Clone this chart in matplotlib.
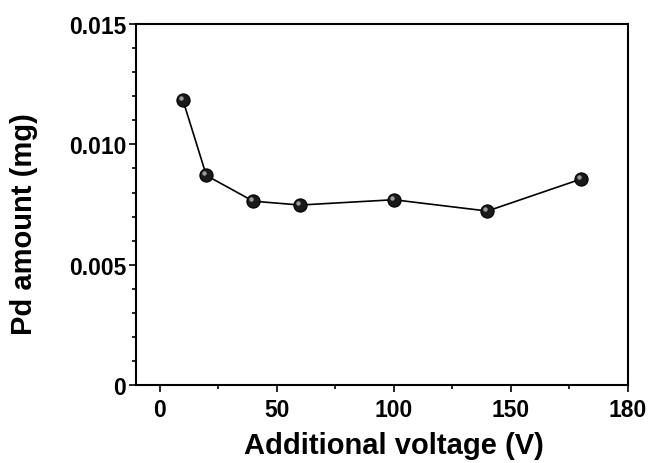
import matplotlib
matplotlib.use("Agg")
import matplotlib.pyplot as plt
import matplotlib.transforms as mtransforms
from matplotlib.ticker import MultipleLocator

plt.rcParams['font.family'] = ['Liberation Sans', 'DejaVu Sans']
plt.rcParams['font.weight'] = 'bold'

voltage = [10, 20, 40, 60, 100, 140, 180]
pd_amount = [0.01184, 0.00871, 0.00764, 0.00748, 0.00770, 0.00723, 0.00856]

xtick_pos = [0, 50, 100, 150, 200]
xtick_labels = ['0', '50', '100', '150', '180']
ytick_pos = [0, 0.005, 0.010, 0.015]
ytick_labels = ['0', '0.005', '0.010', '0.015']

fig = plt.figure(figsize=(6.48, 4.64), dpi=100)
ax = fig.add_axes([0.21, 0.168, 0.759, 0.778])

ax.plot(voltage, pd_amount, color='black', lw=1.2, zorder=2)
ax.plot(voltage, pd_amount, ls='none', marker='o', ms=9.5,
        mfc='#1a1a1a', mec='black', mew=0.8, zorder=3)
# little highlight on the spheres
hl = mtransforms.ScaledTranslation(-1.5 / 72, 1.5 / 72, fig.dpi_scale_trans)
ax.plot(voltage, pd_amount, ls='none', marker='o', ms=3.2,
        mfc='#9a9a9a', mec='none', zorder=4, transform=ax.transData + hl)

ax.set_xlim(-10, 200)
ax.set_ylim(0, 0.015)
ax.set_xticks(xtick_pos)
ax.set_xticklabels(xtick_labels)
ax.set_yticks(ytick_pos)
ax.set_yticklabels(ytick_labels)
ax.xaxis.set_minor_locator(MultipleLocator(25))
ax.yaxis.set_minor_locator(MultipleLocator(0.001))

ax.tick_params(which='both', direction='out', width=1.2, labelsize=16.5)
ax.tick_params(axis='y', pad=2)
ax.tick_params(axis='x', pad=4)
ax.tick_params(which='major', length=5)
ax.tick_params(which='minor', length=3)
for s in ax.spines.values():
    s.set_linewidth(1.5)

ax.set_xlabel('Additional voltage (V)', fontsize=21, fontweight='bold')
ax.set_ylabel('Pd amount (mg)', fontsize=21, fontweight='bold')
ax.xaxis.set_label_coords(0.524, -0.128)
ax.yaxis.set_label_coords(-0.200, 0.45)

fig.savefig('out.png', dpi=100)
